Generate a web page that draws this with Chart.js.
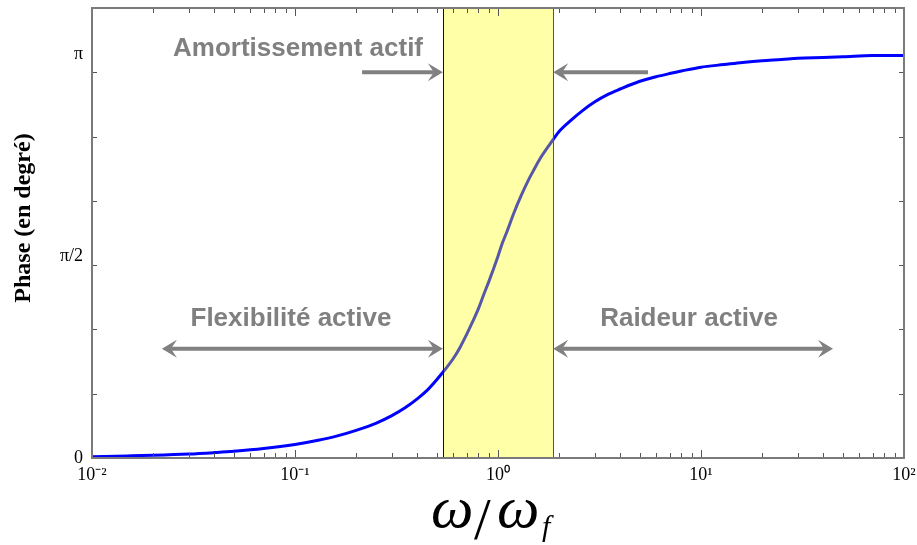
<!DOCTYPE html>
<html>
<head>
<meta charset="utf-8">
<script src="https://cdn.jsdelivr.net/npm/chart.js@4/dist/chart.umd.min.js"></script>
<style>
html,body{margin:0;padding:0;background:#fff;}
canvas{display:block;}
</style>
</head>
<body>
<canvas id="c" width="917" height="545"></canvas>
<script>
// ---- data ----
const omega = [0.01, 0.015, 0.02, 0.03, 0.04, 0.05, 0.07, 0.1, 0.13, 0.16, 0.2, 0.25, 0.3, 0.35, 0.4, 0.45,
               0.5, 0.55, 0.6, 0.65, 0.7, 0.75, 0.8, 0.85, 0.9, 0.95, 1, 1.05, 1.1, 1.2, 1.3, 1.4, 1.5, 1.6,
               1.8, 2, 2.3, 2.6, 3, 3.5, 4, 5, 6, 7, 8, 10, 13, 16, 20, 25, 30, 40, 50, 70, 100];
const phaseRad = [0.01, 0.016, 0.021, 0.031, 0.042, 0.052, 0.073, 0.105, 0.138, 0.17, 0.215, 0.27, 0.33, 0.393, 0.46, 0.53,
                  0.61, 0.69, 0.77, 0.86, 0.96, 1.06, 1.16, 1.27, 1.37, 1.47, 1.57, 1.67, 1.75, 1.91, 2.04, 2.15, 2.24, 2.32,
                  2.44, 2.54, 2.63, 2.70, 2.77, 2.83, 2.87, 2.93, 2.965, 2.99, 3.01, 3.04, 3.06, 3.076, 3.09, 3.10, 3.11, 3.115, 3.12, 3.13, 3.13];
const bandRange = [0.535, 1.87];
const xTickValues = [0.01, 0.1, 1, 10, 100];
const xTickLabels = ['10\u207B\u00B2', '10\u207B\u00B9', '10\u2070', '10\u00B9', '10\u00B2'];
const yTickValues = [0, Math.PI / 2, Math.PI];
const yTickLabels = ['0', '\u03C0/2', '\u03C0'];
const yMinorTicks = [0, 0.5, 1, 1.5, 2, 2.5, 3, 3.5];
const yAxisTitle = 'Phase (en degr\u00E9)';
const annotTexts = ['Amortissement actif', 'Flexibilit\u00E9 active', 'Raideur active'];

const GRAY = '#808080';

function arrowHead(ctx, x, y, dir) {
  const L = 15, H = 9, N = 6;
  ctx.beginPath();
  ctx.moveTo(x, y);
  ctx.lineTo(x - dir * L, y - H);
  ctx.lineTo(x - dir * (L - N), y);
  ctx.lineTo(x - dir * L, y + H);
  ctx.closePath();
  ctx.fill();
}
function arrow(ctx, x1, x2, y, headStart, headEnd) {
  ctx.save();
  ctx.strokeStyle = GRAY; ctx.fillStyle = GRAY; ctx.lineWidth = 4;
  const dir = x2 > x1 ? 1 : -1;
  ctx.beginPath();
  ctx.moveTo(x1 + (headStart ? dir * 9 : 0), y);
  ctx.lineTo(x2 - (headEnd ? dir * 9 : 0), y);
  ctx.stroke();
  if (headEnd) arrowHead(ctx, x2, y, dir);
  if (headStart) arrowHead(ctx, x1, y, -dir);
  ctx.restore();
}

const decor = {
  id: 'decor',
  afterDatasetsDraw(chart) {
    const ctx = chart.ctx, xs = chart.scales.x, ys = chart.scales.y, a = chart.chartArea;
    const bx1 = xs.getPixelForValue(bandRange[0]), bx2 = xs.getPixelForValue(bandRange[1]);
    ctx.save();
    ctx.fillStyle = 'rgba(255,255,0,0.34)';
    ctx.fillRect(bx1, a.top, bx2 - bx1, a.bottom - a.top);
    ctx.strokeStyle = '#111'; ctx.lineWidth = 1;
    ctx.beginPath();
    ctx.moveTo(Math.round(bx1) + 0.5, a.top); ctx.lineTo(Math.round(bx1) + 0.5, a.bottom);
    ctx.stroke();
    ctx.strokeStyle = '#555';
    ctx.beginPath();
    ctx.moveTo(Math.round(bx2) + 0.5, a.top); ctx.lineTo(Math.round(bx2) + 0.5, a.bottom);
    ctx.stroke();

    // tick marks (inside, all four sides)
    ctx.strokeStyle = '#555'; ctx.lineWidth = 1;
    ctx.beginPath();
    for (let d = -2; d <= 2; d++) {
      for (let k = 1; k <= 9; k++) {
        const v = k * Math.pow(10, d);
        if (v > 100.0001) break;
        const px = Math.round(xs.getPixelForValue(v)) + 0.5;
        const len = k === 1 ? 8 : 5;
        ctx.moveTo(px, a.bottom); ctx.lineTo(px, a.bottom - len);
        ctx.moveTo(px, a.top); ctx.lineTo(px, a.top + len);
      }
    }
    yMinorTicks.forEach(v => {
      const py = Math.round(ys.getPixelForValue(v)) + 0.5;
      ctx.moveTo(a.left, py); ctx.lineTo(a.left + 5, py);
      ctx.moveTo(a.right, py); ctx.lineTo(a.right - 5, py);
    });
    ctx.stroke();

    ctx.strokeStyle = '#7a7a7a'; ctx.lineWidth = 2;
    ctx.strokeRect(a.left, a.top, a.right - a.left, a.bottom - a.top);

    const yTop = ys.getPixelForValue(3.0), yLow = ys.getPixelForValue(0.85);
    arrow(ctx, xs.getPixelForValue(0.214), bx1, yTop, false, true);
    arrow(ctx, xs.getPixelForValue(5.48), bx2, yTop, false, true);
    arrow(ctx, xs.getPixelForValue(0.0221), bx1, yLow, true, true);
    arrow(ctx, bx2, xs.getPixelForValue(44.7), yLow, true, true);

    ctx.fillStyle = GRAY;
    ctx.font = 'bold 26px "Liberation Sans", Arial, sans-serif';
    ctx.textAlign = 'center'; ctx.textBaseline = 'middle';
    ctx.fillText(annotTexts[0], xs.getPixelForValue(0.1035), ys.getPixelForValue(3.18));
    ctx.fillText(annotTexts[1], xs.getPixelForValue(0.0955), ys.getPixelForValue(1.08));
    ctx.fillText(annotTexts[2], xs.getPixelForValue(8.73), ys.getPixelForValue(1.08));
    ctx.restore();
  },
  afterDraw(chart) {
    const ctx = chart.ctx;
    ctx.save();
    ctx.fillStyle = '#000';
    ctx.font = 'bold 24px "Liberation Serif", "Times New Roman", serif';
    ctx.textAlign = 'center'; ctx.textBaseline = 'middle';
    ctx.translate(24, 218); ctx.rotate(-Math.PI / 2);
    ctx.fillText(yAxisTitle, 0, 0);
    ctx.restore();
    // x axis title  ω/ω_f
    ctx.save();
    ctx.fillStyle = '#000';
    ctx.textBaseline = 'alphabetic'; ctx.textAlign = 'left';
    const omegaFont = 'italic 60px "Liberation Serif", "Times New Roman", serif';
    const base = 527;
    ctx.font = omegaFont;
    ctx.fillText('\u03C9', 431, base);
    ctx.fillText('\u03C9', 497, base);
    ctx.font = '60px "Liberation Serif", serif';
    ctx.fillText('/', 474, base + 12);
    ctx.font = 'italic 30px "Liberation Serif", serif';
    ctx.fillText('f', 542, base + 9);
    ctx.restore();
  }
};

new Chart(document.getElementById('c'), {
  type: 'line',
  data: {
    datasets: [{
      data: omega.map((w, i) => ({ x: w, y: phaseRad[i] })),
      borderColor: '#0000ff',
      borderWidth: 3,
      pointRadius: 0,
      fill: false,
      cubicInterpolationMode: 'monotone'
    }]
  },
  options: {
    responsive: false,
    animation: false,
    devicePixelRatio: 1,
    layout: { padding: { top: 8, right: 13, left: 0, bottom: 0 } },
    plugins: { legend: { display: false }, tooltip: { enabled: false } },
    scales: {
      x: {
        type: 'logarithmic', min: 0.01, max: 100,
        afterBuildTicks: s => { s.ticks = xTickValues.map(v => ({ value: v })); },
        afterFit: s => { s.height = 87; s.paddingLeft = 0; s.paddingRight = 0; },
        grid: { display: false, drawTicks: false },
        border: { display: false },
        ticks: {
          autoSkip: false, maxRotation: 0, padding: 6, color: '#000',
          font: { family: '"Liberation Serif", "Times New Roman", serif', size: 18 },
          callback: (v, i) => xTickLabels[i]
        }
      },
      y: {
        type: 'linear', min: 0, max: 3.5,
        afterBuildTicks: s => { s.ticks = yTickValues.map(v => ({ value: v })); },
        afterFit: s => { s.width = 92; s.paddingTop = 0; s.paddingBottom = 0; },
        grid: { display: false, drawTicks: false },
        border: { display: false },
        ticks: {
          autoSkip: false, padding: 9, color: '#000',
          font: { family: '"Liberation Serif", "Times New Roman", serif', size: 18 },
          callback: (v, i) => yTickLabels[i]
        }
      }
    }
  },
  plugins: [decor]
});
</script>
</body>
</html>
